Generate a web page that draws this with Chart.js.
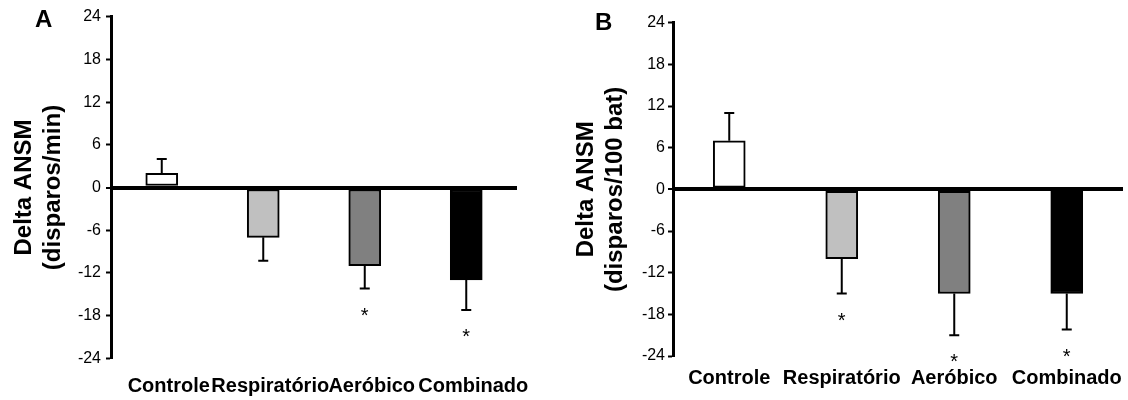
<!DOCTYPE html>
<html>
<head>
<meta charset="utf-8">
<script src="https://cdn.jsdelivr.net/npm/chart.js@4/dist/chart.umd.min.js"></script>
<style>
  body { margin: 0; background: #fff; }
  .panel { position: absolute; top: 0; height: 400px; }
  .letter { position: absolute; font: bold 24px "Liberation Sans", Arial, sans-serif; line-height: 1; color: #000; }
</style>
</head>
<body>
<div class="panel" style="left:0;width:560px;"><canvas id="chartA"></canvas></div>
<div class="panel" style="left:560px;width:568px;"><canvas id="chartB"></canvas></div>
<div class="letter" style="left:35px;top:7px;">A</div>
<div class="letter" style="left:595px;top:10px;">B</div>
<script>
var groups = ['Controle', 'Respiratório', 'Aeróbico', 'Combinado'];
var barColors = ['#ffffff', '#c0c0c0', '#808080', '#000000'];

// A: disparos/min
var meanA = [2, -7, -11, -13];
var semA = [2, 3.3, 3.2, 4.2];
var sigA = [false, false, true, true];

// B: disparos/100 bat
var meanB = [7, -10, -15, -15];
var semB = [4, 5, 6, 5.2];
var sigB = [false, true, true, true];

var yMin = -24, yMax = 24, yStep = 6;

var FONT = '"Liberation Sans", Arial, sans-serif';

// one-sided error bar (away from zero) plus the * marker under it
var errorBars = {
    id: 'errorBars',
    afterDatasetsDraw: function(chart, args, opts) {
        var ctx = chart.ctx;
        var yScale = chart.scales.y;
        var meta = chart.getDatasetMeta(0);
        var values = chart.data.datasets[0].data;
        ctx.save();
        ctx.strokeStyle = '#000';
        ctx.fillStyle = '#000';
        ctx.lineWidth = 2;
        for (var i = 0; i < meta.data.length; i++) {
            var bar = meta.data[i];
            var v = values[i];
            var dir = v >= 0 ? 1 : -1;
            var y0 = yScale.getPixelForValue(v);
            var y1 = yScale.getPixelForValue(v + dir * opts.sem[i]);
            ctx.beginPath();
            ctx.moveTo(bar.x, y0);
            ctx.lineTo(bar.x, y1);
            ctx.moveTo(bar.x - 5, y1);
            ctx.lineTo(bar.x + 5, y1);
            ctx.stroke();
            if (opts.sig[i]) {
                ctx.font = '20px ' + FONT;
                ctx.textAlign = 'center';
                ctx.textBaseline = 'alphabetic';
                ctx.fillText('*', bar.x, y1 + 33);
            }
        }
        ctx.restore();
    }
};

function makeChart(id, values, sem, sig, title, p) {
    var ctx = document.getElementById(id).getContext('2d');
    return new Chart(ctx, {
        type: 'bar',
        data: {
            labels: groups,
            datasets: [{
                data: values,
                backgroundColor: barColors,
                borderColor: '#000',
                borderWidth: 2,
                borderSkipped: false,
                barThickness: 32
            }]
        },
        options: {
            responsive: true,
            maintainAspectRatio: false,
            animation: false,
            layout: { padding: { left: p.left, top: p.top, right: p.right, bottom: 0 } },
            plugins: {
                legend: { display: false },
                tooltip: { enabled: false },
                errorBars: { sem: sem, sig: sig }
            },
            scales: {
                x: {
                    grid: { display: false, drawTicks: true, tickLength: p.labelGap },
                    border: { display: false },
                    ticks: {
                        autoSkip: false, maxRotation: 0, minRotation: 0, padding: 0,
                        labelOffset: p.labelShift,
                        color: '#000',
                        font: { family: FONT, size: 20, weight: 'bold' }
                    },
                    afterFit: function(s) { s.height = p.xHeight; }
                },
                y: {
                    min: yMin, max: yMax,
                    ticks: {
                        stepSize: yStep, padding: p.tickPad, color: '#000',
                        font: { family: FONT, size: 16 }
                    },
                    grid: {
                        color: function(c) { return c.tick && c.tick.value === 0 ? '#000' : 'rgba(0,0,0,0)'; },
                        lineWidth: function(c) { return c.tick && c.tick.value === 0 ? 4 : 1; },
                        tickColor: '#000',
                        tickWidth: 2,
                        tickLength: 5
                    },
                    border: { display: true, color: '#000', width: 3 },
                    title: {
                        display: true,
                        text: title,
                        color: '#000',
                        padding: 0,
                        font: { family: FONT, size: 24, weight: 'bold', lineHeight: 1.2 }
                    },
                    afterFit: function(s) { s.width = p.yWidth; }
                }
            }
        },
        plugins: [errorBars]
    });
}

makeChart('chartA', meanA, semA, sigA, ['Delta ANSM', '(disparos/min)'],
    { left: 10, top: 16.7, right: 43, yWidth: 101, xHeight: 41.7, labelGap: 16, tickPad: 5, labelShift: 7 });
makeChart('chartB', meanB, semB, sigB, ['Delta ANSM', '(disparos/100 bat)'],
    { left: 12, top: 22.7, right: 5, yWidth: 101, xHeight: 44, labelGap: 10, tickPad: 3, labelShift: 0 });
</script>
</body>
</html>
